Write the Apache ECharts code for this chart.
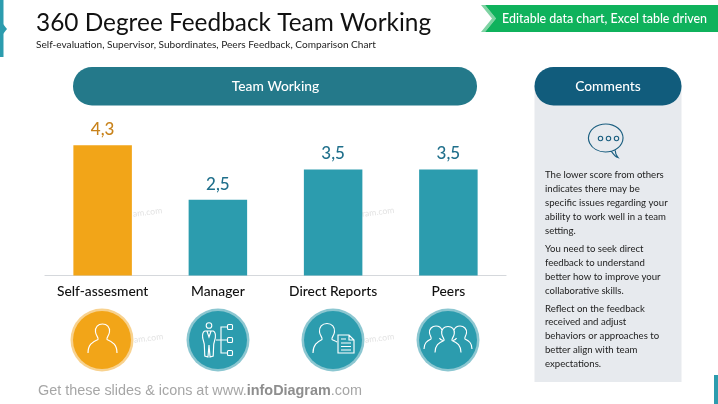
<!DOCTYPE html>
<html>
<head>
<meta charset="utf-8">
<style>html,body{margin:0;padding:0;background:#fff}#c{width:718px;height:404px}</style>
<script src="https://cdn.jsdelivr.net/npm/echarts@6/dist/echarts.min.js"></script>
</head>
<body>
<div id="c"></div>
<script>
const categories = ['Self-assesment', 'Manager', 'Direct Reports', 'Peers'];
const scores = [4.3, 2.5, 3.5, 3.5];
const commentBlocks = [
  'The lower score from others\nindicates there may be\nspecific issues regarding your\nability to work well in a team\nsetting.',
  'You need to seek direct\nfeedback to understand\nbetter how to improve your\ncollaborative skills.',
  'Reflect on the feedback\nreceived and adjust\nbehaviors or approaches to\nbetter align with team\nexpectations.'
];
const titleText = '360 Degree Feedback Team Working';
const subtitleText = 'Self-evaluation, Supervisor, Subordinates, Peers Feedback, Comparison Chart';
const bannerText = 'Editable data chart, Excel table driven';

const FONT = 'Lato, "Open Sans", sans-serif';
const ORANGE = '#f2a518', TEAL = '#2c9cae', WHITE = '#ffffff';

function person(cx, top, s) {
  const d = 'M-14.5 29C-14.5 21 -10.5 18 -4.5 15.5C-3.5 14 -6.5 12 -7 8C-7.5 3 -4.5 0 0 0C4.5 0 7.5 3 7 8C6.5 12 3.5 14 4.5 15.5C10.5 18 14.5 21 14.5 29';
  return d.replace(/(-?[\d.]+) (-?[\d.]+)/g, (m, a, b) => (cx + a * s).toFixed(2) + ' ' + (top + b * s).toFixed(2));
}
/* Icon outlines: [path, box x, y, w, h, colour] */
const iconPaths = [
  ['M616 151A19.5 14 0 1 0 608.5 152C611 152 613 151.7 615 151.2C616.5 153 619 156.5 622.5 157.5C620.5 155.5 619.5 152.5 619.5 150.5', 588.5, 124, 34.5, 33.5, '#1b5f80'],
  [person(102.5, 324, 1), 88, 324, 29, 29, WHITE],
  ['M205 331L213 331C215 332 215.5 334 215 338L213.5 344L213 356L210 357L209 345L208 357L205 356L204.5 344L203 338C202.5 334 203 332 205 331M207 331L209 337L211 331', 202.5, 331, 13, 26, WHITE],
  ['M216 340L227 340M227 327L221 327L221 353L227 353', 216, 327, 11, 26, WHITE],
  ['M313 353C313 345 317 342 322 339.5C323 338 320 336 319.5 332C319 327 322 323.5 327 323.5C332 323.5 335 327 334.5 332C334 336 331 338 332 339.5C334 340.5 336 341 337 342', 313, 323.5, 24, 29.5, WHITE],
  ['M338 335L349 335L354 340L354 353L338 353ZM349 335L349 340L354 340M341 339L346 339M341 343L351 343M341 346.5L351 346.5M341 350L351 350', 338, 335, 16, 18, WHITE],
  [person(448, 326.5, 0.9), 435, 326.5, 26, 26.1, WHITE],
  ['M424 349C424 343 427 341 431 339C432 338 430 336 429.5 333C429 329 432 326 436 326C439 326 441 327.5 442 330M439.5 338C440 339.5 441 340 443 340.5', 424, 326, 19, 23, WHITE],
  ['M472 349C472 343 469 341 465 339C464 338 466 336 466.5 333C467 329 464 326 460 326C457 326 455 327.5 454 330M456.5 338C456 339.5 455 340 453 340.5', 453, 326, 19, 23, WHITE]
];

function ring(cx, color, halo) {
  return [
    { type: 'circle', z: 4, shape: { cx, cy: 340, r: 31.5 }, style: { fill: halo } },
    { type: 'circle', z: 5, shape: { cx, cy: 340, r: 29 }, style: { fill: color } }
  ];
}
function square(x, y) {
  return { type: 'rect', z: 6, shape: { x, y, width: 5, height: 5, r: 1 }, style: { fill: 'none', stroke: WHITE, lineWidth: 1.1 } };
}
function dot(cx) {
  return { type: 'circle', z: 6, shape: { cx, cy: 138.5, r: 2.2 }, style: { fill: 'none', stroke: '#1b5f80', lineWidth: 1.1 } };
}
function wm(x, y, text) {
  return { type: 'text', x, y, rotation: 0.12, z: 1,
    style: { text, fill: '#e3e3e3', font: '8.6px ' + FONT, textVerticalAlign: 'middle' } };
}

const graphics = [
  { type: 'rect', shape: { x: 0, y: 0, width: 3.5, height: 57 }, style: { fill: TEAL } },
  { type: 'polygon', shape: { points: [[3, 24], [7, 29], [3, 34]] }, style: { fill: TEAL } },
  { type: 'rect', shape: { x: 714, y: 375, width: 4, height: 29 }, style: { fill: TEAL } },

  { type: 'text', x: 36, y: 23, style: { text: titleText, fill: '#111', font: '24.4px ' + FONT, textVerticalAlign: 'middle' } },
  { type: 'text', x: 36, y: 45, style: { text: subtitleText, fill: '#222', font: '10.1px ' + FONT, textVerticalAlign: 'middle' } },

  { type: 'polygon', shape: { points: [[481, 5], [485, 5], [496, 18.5], [485, 32], [481, 32], [492, 18.5]] }, style: { fill: '#7fd3a3' } },
  { type: 'polygon', shape: { points: [[485, 5], [718, 5], [718, 32], [485, 32], [496, 18.5]] }, style: { fill: '#0fb25c' } },
  { type: 'text', x: 502, y: 18.5, z: 3, style: { text: bannerText, fill: WHITE, font: '500 12.45px ' + FONT, textVerticalAlign: 'middle' } },

  { type: 'rect', shape: { x: 73, y: 67, width: 404, height: 38.5, r: 19 }, style: { fill: '#24798a' } },
  { type: 'text', x: 275.5, y: 87, z: 3, style: { text: 'Team Working', fill: WHITE, font: '500 13.8px ' + FONT, textAlign: 'center', textVerticalAlign: 'middle' } },

  { type: 'rect', shape: { x: 534.5, y: 85, width: 147, height: 297 }, style: { fill: '#e7eaee' } },
  { type: 'rect', z: 2, shape: { x: 534.5, y: 67, width: 147, height: 38.5, r: 19 }, style: { fill: '#115c7c' } },
  { type: 'text', x: 608, y: 87, z: 3, style: { text: 'Comments', fill: WHITE, font: '500 13.8px ' + FONT, textAlign: 'center', textVerticalAlign: 'middle' } },
  dot(600.5), dot(608.5), dot(616.5),

  { type: 'text', x: 545, y: 168, z: 3, style: { text: commentBlocks[0], fill: '#222', font: '9.6px ' + FONT, lineHeight: 13.9 } },
  { type: 'text', x: 545, y: 242, z: 3, style: { text: commentBlocks[1], fill: '#222', font: '9.6px ' + FONT, lineHeight: 13.9 } },
  { type: 'text', x: 545, y: 301.5, z: 3, style: { text: commentBlocks[2], fill: '#222', font: '9.6px ' + FONT, lineHeight: 13.9 } },

  wm(133, 214, 'am.com'), wm(362, 214, 'ram.com'),
  wm(134, 340, 'am.com'), wm(365, 340, 'am.com'),

  ...ring(102, ORANGE, '#f8d28f'),
  ...ring(218, TEAL, '#8cc7d1'),
  ...ring(333, TEAL, '#8cc7d1'),
  ...ring(448, TEAL, '#8cc7d1'),

  { type: 'circle', z: 6, shape: { cx: 209, cy: 325.5, r: 2.8 }, style: { fill: 'none', stroke: WHITE, lineWidth: 1.1 } },
  square(227.5, 324.5), square(227.5, 337.5), square(227.5, 350.5),
  { type: 'rect', z: 6, shape: { x: 338, y: 335, width: 16, height: 18 }, style: { fill: TEAL } },

  { type: 'text', x: 38, y: 391, style: {
      text: '{a|Get these slides & icons at www.}{b|infoDiagram}{a|.com}',
      textVerticalAlign: 'middle',
      rich: {
        a: { fill: '#a6a6a6', font: '14.4px "Liberation Sans", Arial, sans-serif' },
        b: { fill: '#8e8e8e', font: 'bold 14.4px "Liberation Sans", Arial, sans-serif' }
      }
  } }
];

const chart = echarts.init(document.getElementById('c'), null, { renderer: 'canvas' });
chart.setOption({
  animation: false,
  backgroundColor: '#fff',
  grid: { left: 45, right: 212, top: 124, bottom: 128.5, containLabel: false },
  xAxis: {
    type: 'category',
    data: categories,
    axisLine: { show: true, lineStyle: { color: '#d5d8dc', width: 1.2 } },
    axisTick: { show: false },
    axisLabel: { color: '#111', fontFamily: FONT, fontSize: 13.8, fontWeight: 500, margin: 9, interval: 0 }
  },
  yAxis: { type: 'value', min: 0, max: 5, show: false, splitLine: { show: false } },
  series: [{
    type: 'bar',
    barWidth: 58.5,
    z: 3,
    data: scores.map((value, i) => ({
      value,
      itemStyle: { color: i === 0 ? ORANGE : TEAL },
      label: { color: i === 0 ? '#c8821a' : '#1f6f8b' }
    })),
    label: {
      show: true, position: 'top', distance: 7,
      fontFamily: FONT, fontSize: 17, fontWeight: 500,
      formatter: p => String(p.value).replace('.', ',')
    }
  }, {
    type: 'custom',
    coordinateSystem: 'none',
    silent: true,
    z: 20,
    data: iconPaths.map((_, i) => [i]),
    renderItem: (params) => {
      const [pathData, x, y, width, height, color] = iconPaths[params.dataIndex];
      return { type: 'path', z2: 50, shape: { pathData, x, y, width, height, layout: 'cover' },
        style: { fill: 'none', stroke: color, lineWidth: 1.15 } };
    }
  }],
  graphic: { elements: graphics }
});
</script>
</body>
</html>
